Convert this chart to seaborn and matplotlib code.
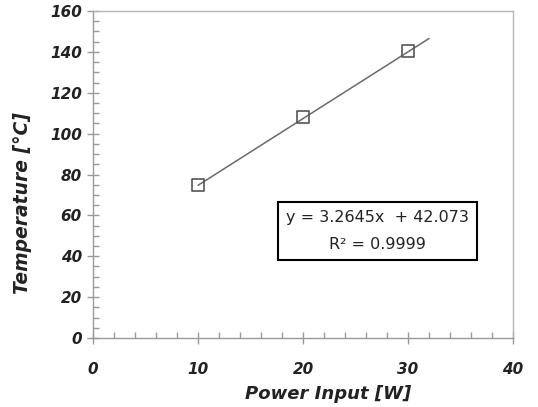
import numpy as np
import pandas as pd
import matplotlib
matplotlib.use("Agg")
import matplotlib.pyplot as plt
from matplotlib.ticker import MultipleLocator
import seaborn as sns

# measured points
power = [10, 20, 30]
temperature = [75.0, 108.0, 140.3]

# linear trendline (as printed on the chart)
slope = 3.2645
intercept = 42.073
r_squared = 0.9999
trend_x = [10, 32]

sns.set_style("white")
plt.rcParams['font.family'] = ['DejaVu Sans']

fig = plt.figure(figsize=(5.38, 4.07), dpi=100)
ax = fig.add_axes([0.173, 0.1695, 0.7805, 0.8035])

trend = pd.DataFrame({'x': trend_x,
                      'y': [slope * v + intercept for v in trend_x]})
sns.lineplot(data=trend, x='x', y='y', ax=ax, color='#6a6a6a', linewidth=1.1)

pts = pd.DataFrame({'Power': power, 'Temp': temperature})
sns.scatterplot(data=pts, x='Power', y='Temp', ax=ax, marker='s', s=80,
                facecolor='none', edgecolor='#555555', linewidth=1.2, zorder=3)

ax.set_xlim(0, 40)
ax.set_ylim(0, 160)
ax.xaxis.set_major_locator(MultipleLocator(10))
ax.xaxis.set_minor_locator(MultipleLocator(2))
ax.yaxis.set_major_locator(MultipleLocator(20))
ax.yaxis.set_minor_locator(MultipleLocator(5))

for s in ax.spines.values():
    s.set_color('#b5b5b5')
    s.set_linewidth(1.0)
ax.spines['left'].set_color('#999999')
ax.spines['bottom'].set_color('#999999')

ax.tick_params(which='major', direction='inout', length=8, width=1,
               color='#999999', left=True, bottom=True, pad=13)
ax.tick_params(which='minor', direction='in', length=4, width=1,
               color='#999999', left=True, bottom=True)
ax.tick_params(axis='y', which='major', pad=4)

for lab in ax.get_xticklabels() + ax.get_yticklabels():
    lab.set_fontsize(11)
    lab.set_fontweight('bold')
    lab.set_fontstyle('italic')
    lab.set_color('#222222')

ax.set_xlabel('Power Input [W]', fontsize=13, fontweight='bold',
              fontstyle='italic', color='#222222')
ax.set_ylabel('Temperature [°C]', fontsize=13.5, fontweight='bold',
              fontstyle='italic', color='#222222')
ax.xaxis.set_label_coords(0.56, -0.143)
ax.yaxis.set_label_coords(-0.145, 0.413)

ax.text(0.677, 0.326, f'y = {slope}x  + {intercept}\nR² = {r_squared}',
        transform=ax.transAxes, ha='center', va='center', fontsize=11.5,
        color='#222222', linespacing=2.0,
        bbox=dict(boxstyle='square,pad=0.5', facecolor='white',
                  edgecolor='black', linewidth=1.5))

fig.savefig('out.png', dpi=100)
